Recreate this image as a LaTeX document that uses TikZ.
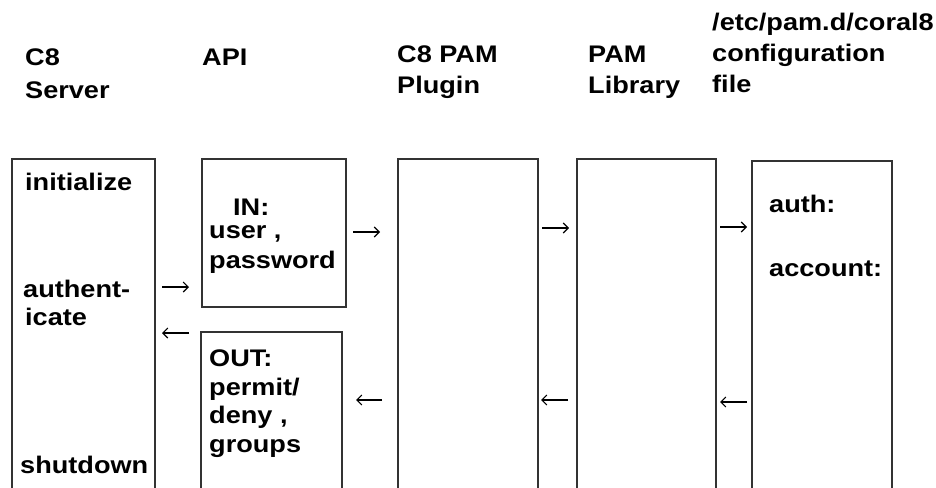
\documentclass[tikz,border=0pt]{standalone}
\usepackage{fontspec}
\setmainfont{Liberation Sans}[FakeStretch=1.13]
\usetikzlibrary{arrows.meta}
\begin{document}
\begin{tikzpicture}[x=1pt,y=-1pt,
  box/.style={draw=black!80,line width=1.5pt,fill=none,inner sep=0pt,anchor=north west},
  lbl/.style={anchor=base west,inner sep=0pt,font=\fontsize{24}{30}\selectfont\bfseries},
  arr/.style={line width=1.1pt,-{Straight Barb[length=5pt,width=10pt]}}]
\useasboundingbox[fill=white] (0,0) rectangle (936,487);
% boxes
\node[box,minimum width=143pt,minimum height=350pt] (srv)  at (11,158) {};
\node[box,minimum width=144pt,minimum height=148pt] (in)   at (201,158) {};
\node[box,minimum width=141pt,minimum height=180pt] (out)  at (200,331) {};
\node[box,minimum width=140pt,minimum height=350pt] (plug) at (397,158) {};
\node[box,minimum width=139pt,minimum height=350pt] (lib)  at (576,158) {};
\node[box,minimum width=140pt,minimum height=350pt] (conf) at (751,160) {};
% headers
\node[lbl] (h1a) at (25,66) {C8};
\node[lbl] (h1b) at (25,98) {Server};
\node[lbl] (h2)  at (202,65) {API};
\node[lbl] (h3a) at (397,63) {C8 PAM};
\node[lbl] (h3b) at (397,93) {Plugin};
\node[lbl] (h4a) at (588,63) {PAM};
\node[lbl] (h4b) at (588,93) {Library};
\node[lbl] (h5a) at (712,31) {/etc/pam.d/coral8};
\node[lbl] (h5b) at (712,62) {configuration};
\node[lbl] (h5c) at (712,92) {file};
% box texts
\node[lbl] (t1) at (25,190) {initialize};
\node[lbl] (t2) at (23,297) {authent-};
\node[lbl] (t3) at (25,325) {icate};
\node[lbl] (t4) at (20,473) {shutdown};
\node[lbl] (t5) at (233,215) {IN:};
\node[lbl] (t6) at (209,238) {user ,};
\node[lbl] (t7) at (209,268) {password};
\node[lbl] (t8) at (209,366) {OUT:};
\node[lbl] (t9) at (209,395) {permit/};
\node[lbl] (t10) at (209,423) {deny ,};
\node[lbl] (t11) at (209,452) {groups};
\node[lbl] (t12) at (769,212) {auth:};
\node[lbl] (t13) at (769,276) {account:};
% arrows
\coordinate (a1s) at (162,287); \coordinate (a1e) at (189,287);
\coordinate (a2s) at (189,333); \coordinate (a2e) at (162,333);
\coordinate (a3s) at (353,232); \coordinate (a3e) at (380,232);
\coordinate (a4s) at (382,400); \coordinate (a4e) at (356,400);
\coordinate (a5s) at (542,228); \coordinate (a5e) at (569,228);
\coordinate (a6s) at (568,400); \coordinate (a6e) at (541,400);
\coordinate (a7s) at (720,227); \coordinate (a7e) at (747,227);
\coordinate (a8s) at (747,402); \coordinate (a8e) at (720,402);
\draw[arr] (a1s) -- (a1e);
\draw[arr] (a2s) -- (a2e);
\draw[arr] (a3s) -- (a3e);
\draw[arr] (a4s) -- (a4e);
\draw[arr] (a5s) -- (a5e);
\draw[arr] (a6s) -- (a6e);
\draw[arr] (a7s) -- (a7e);
\draw[arr] (a8s) -- (a8e);
\end{tikzpicture}
\end{document}
